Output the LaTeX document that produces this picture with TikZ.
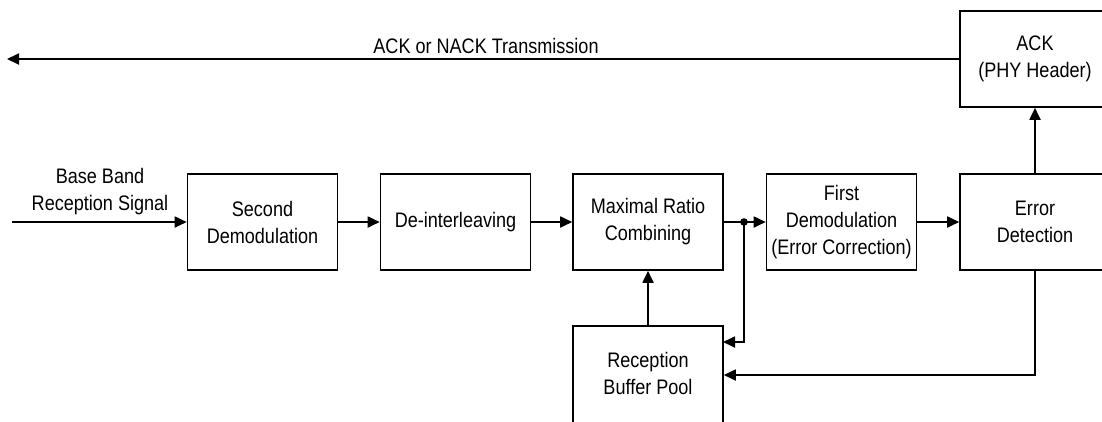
\documentclass[tikz,border=0pt]{standalone}
\usepackage{fontspec}
\setmainfont{Liberation Sans}[FakeStretch=0.86]
\usetikzlibrary{arrows.meta}
\begin{document}
\begin{tikzpicture}[x=1pt,y=-1pt,
  font=\fontsize{21}{27}\selectfont,
  blk/.style={draw,line width=1.6pt,minimum width=150pt,minimum height=96pt,align=center,inner sep=0pt},
  lbl/.style={align=center,inner sep=0pt},
  arr/.style={line width=1.8pt,-{Triangle[length=12pt,width=11pt]}},
  ln/.style={line width=1.8pt}]
\useasboundingbox (0,0) rectangle (1102,421);
\clip (0,0) rectangle (1102,421);
\node[blk] (sd) at (262.5,222) {Second\\Demodulation};
\node[blk] (di) at (455.5,222) {De-interleaving};
\node[blk] (mrc) at (648,222) {Maximal Ratio\\Combining};
\node[blk] (fd) at (841.5,222) {First\\Demodulation\\(Error Correction)};
\node[blk] (ed) at (1035,222) {Error\\Detection};
\node[blk] (ack) at (1035,59) {ACK\\(PHY Header)};
\node[blk,minimum height=100pt] (buf) at (648,376) {\raisebox{4pt}{\begin{tabular}{@{}c@{}}Reception\\Buffer Pool\end{tabular}}};
\coordinate (in) at (12,222);
\coordinate (out) at (7,59);
\coordinate (j) at (744,222);
\coordinate (b1) at (723,342);
\node[lbl] (inl) at (100,192) {Base Band\\Reception Signal};
\node[lbl] (outl) at (486,46) {ACK or NACK Transmission};
\draw[arr] (in) -- (sd.west);
\draw[arr] (sd.east) -- (di.west);
\draw[arr] (di.east) -- (mrc.west);
\draw[arr] (mrc.east) -- (fd.west);
\fill (j) circle (3.8pt);
\draw[arr] (j) |- (b1);
\draw[arr] (fd.east) -- (ed.west);
\draw[arr] (ed.north) -- (ack.south);
\draw[arr] (ack.west) -- (out);
\draw[arr] (buf.north) -- (mrc.south);
\draw[arr] (ed.south) |- ([yshift=1pt]buf.east);
\end{tikzpicture}
\end{document}
